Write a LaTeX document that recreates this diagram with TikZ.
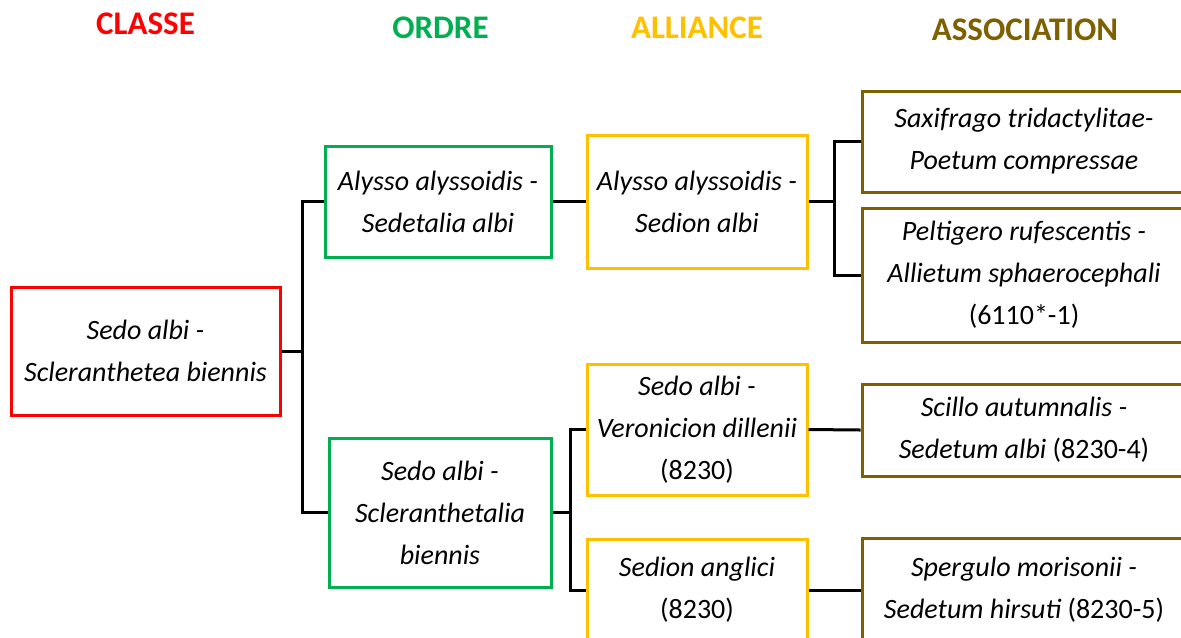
\documentclass[tikz,border=0pt]{standalone}
\usepackage{fontspec}
\setmainfont{Carlito}
\definecolor{cRed}{HTML}{FF0000}
\definecolor{cGreen}{HTML}{00B050}
\definecolor{cGold}{HTML}{FFC000}
\definecolor{cBrown}{HTML}{7F6000}
\tikzset{
  box/.style={draw, line width=2.25pt, inner sep=0pt, align=center, fill=white,
    font=\fontsize{21}{31.5}\selectfont\itshape},
  head/.style={font=\fontsize{24.75}{30}\selectfont\bfseries, inner sep=0pt},
  link/.style={line width=2.25pt, black},
}
\begin{document}
\begin{tikzpicture}[x=0.75pt,y=-0.75pt]
\useasboundingbox (0,0) rectangle (1181,637);
\clip (0,0) rectangle (1181,637);
\fill[white] (0,0) rectangle (1181,637);

% headings
\node[head, text=cRed] (hC) at (145.5,24) {CLASSE};
\node[head, text=cGreen] (hO) at (440.5,28) {ORDRE};
\node[head, text=cGold] (hA) at (697,28) {ALLIANCE};
\node[head, text=cBrown] (hS) at (1025,30) {ASSOCIATION};

% boxes
\node[box, draw=cRed, minimum width={269*0.75pt}, minimum height={128*0.75pt}] (classe) at (145.5,351)
  {Sedo albi -\\Scleranthetea biennis};
\node[box, draw=cGreen, minimum width={226*0.75pt}, minimum height={111*0.75pt}] (ordre1) at (438,201.5)
  {Alysso alyssoidis -\\Sedetalia albi};
\node[box, draw=cGreen, minimum width={222*0.75pt}, minimum height={149*0.75pt}] (ordre2) at (440,512.5)
  {Sedo albi -\\Scleranthetalia\\biennis};
\node[box, draw=cGold, minimum width={220*0.75pt}, minimum height={133*0.75pt}] (all1) at (697,201.5)
  {Alysso alyssoidis -\\Sedion albi};
\node[box, draw=cGold, minimum width={220*0.75pt}, minimum height={131*0.75pt}] (all2) at (697,429.5)
  {Sedo albi -\\Veronicion dillenii\\\upshape(8230)};
\node[box, draw=cGold, minimum width={220*0.75pt}, minimum height={102*0.75pt}] (all3) at (697,590)
  {Sedion anglici\\\upshape(8230)};
\node[box, draw=cBrown, minimum width={324*0.75pt}, minimum height={101*0.75pt}] (ass1) at (1024,141.5)
  {Saxifrago tridactylitae-\\Poetum compressae};
\node[box, draw=cBrown, minimum width={324*0.75pt}, minimum height={134*0.75pt}] (ass2) at (1024,275)
  {Peltigero rufescentis -\\Allietum sphaerocephali\\\upshape(6110*-1)};
\node[box, draw=cBrown, minimum width={324*0.75pt}, minimum height={92*0.75pt}] (ass3) at (1024,430)
  {Scillo autumnalis -\\Sedetum albi {\upshape(8230-4)}};
\node[box, draw=cBrown, minimum width={324*0.75pt}, minimum height={104*0.75pt}] (ass4) at (1024,590)
  {Spergulo morisonii -\\Sedetum hirsuti {\upshape(8230-5)}};

% junctions
\coordinate (j1) at (302,351);
\coordinate (j2) at (834,201.5);
\coordinate (j3) at (570,512.5);

% connectors
\draw[link] (classe.east) -- (j1);
\draw[link] (ordre1.west) -| (j1) |- (ordre2.west);
\draw[link] (ordre1.east) -- (all1.west);
\draw[link] (all1.east) -- (j2);
\draw[link] (ass1.west) -| (j2) |- (ass2.west);
\draw[link] (ordre2.east) -- (j3);
\draw[link] (all2.west) -| (j3) |- (all3.west);
\draw[link] (all2.east) -- (ass3.west);
\draw[link] (all3.east) -- (ass4.west);
\end{tikzpicture}
\end{document}
